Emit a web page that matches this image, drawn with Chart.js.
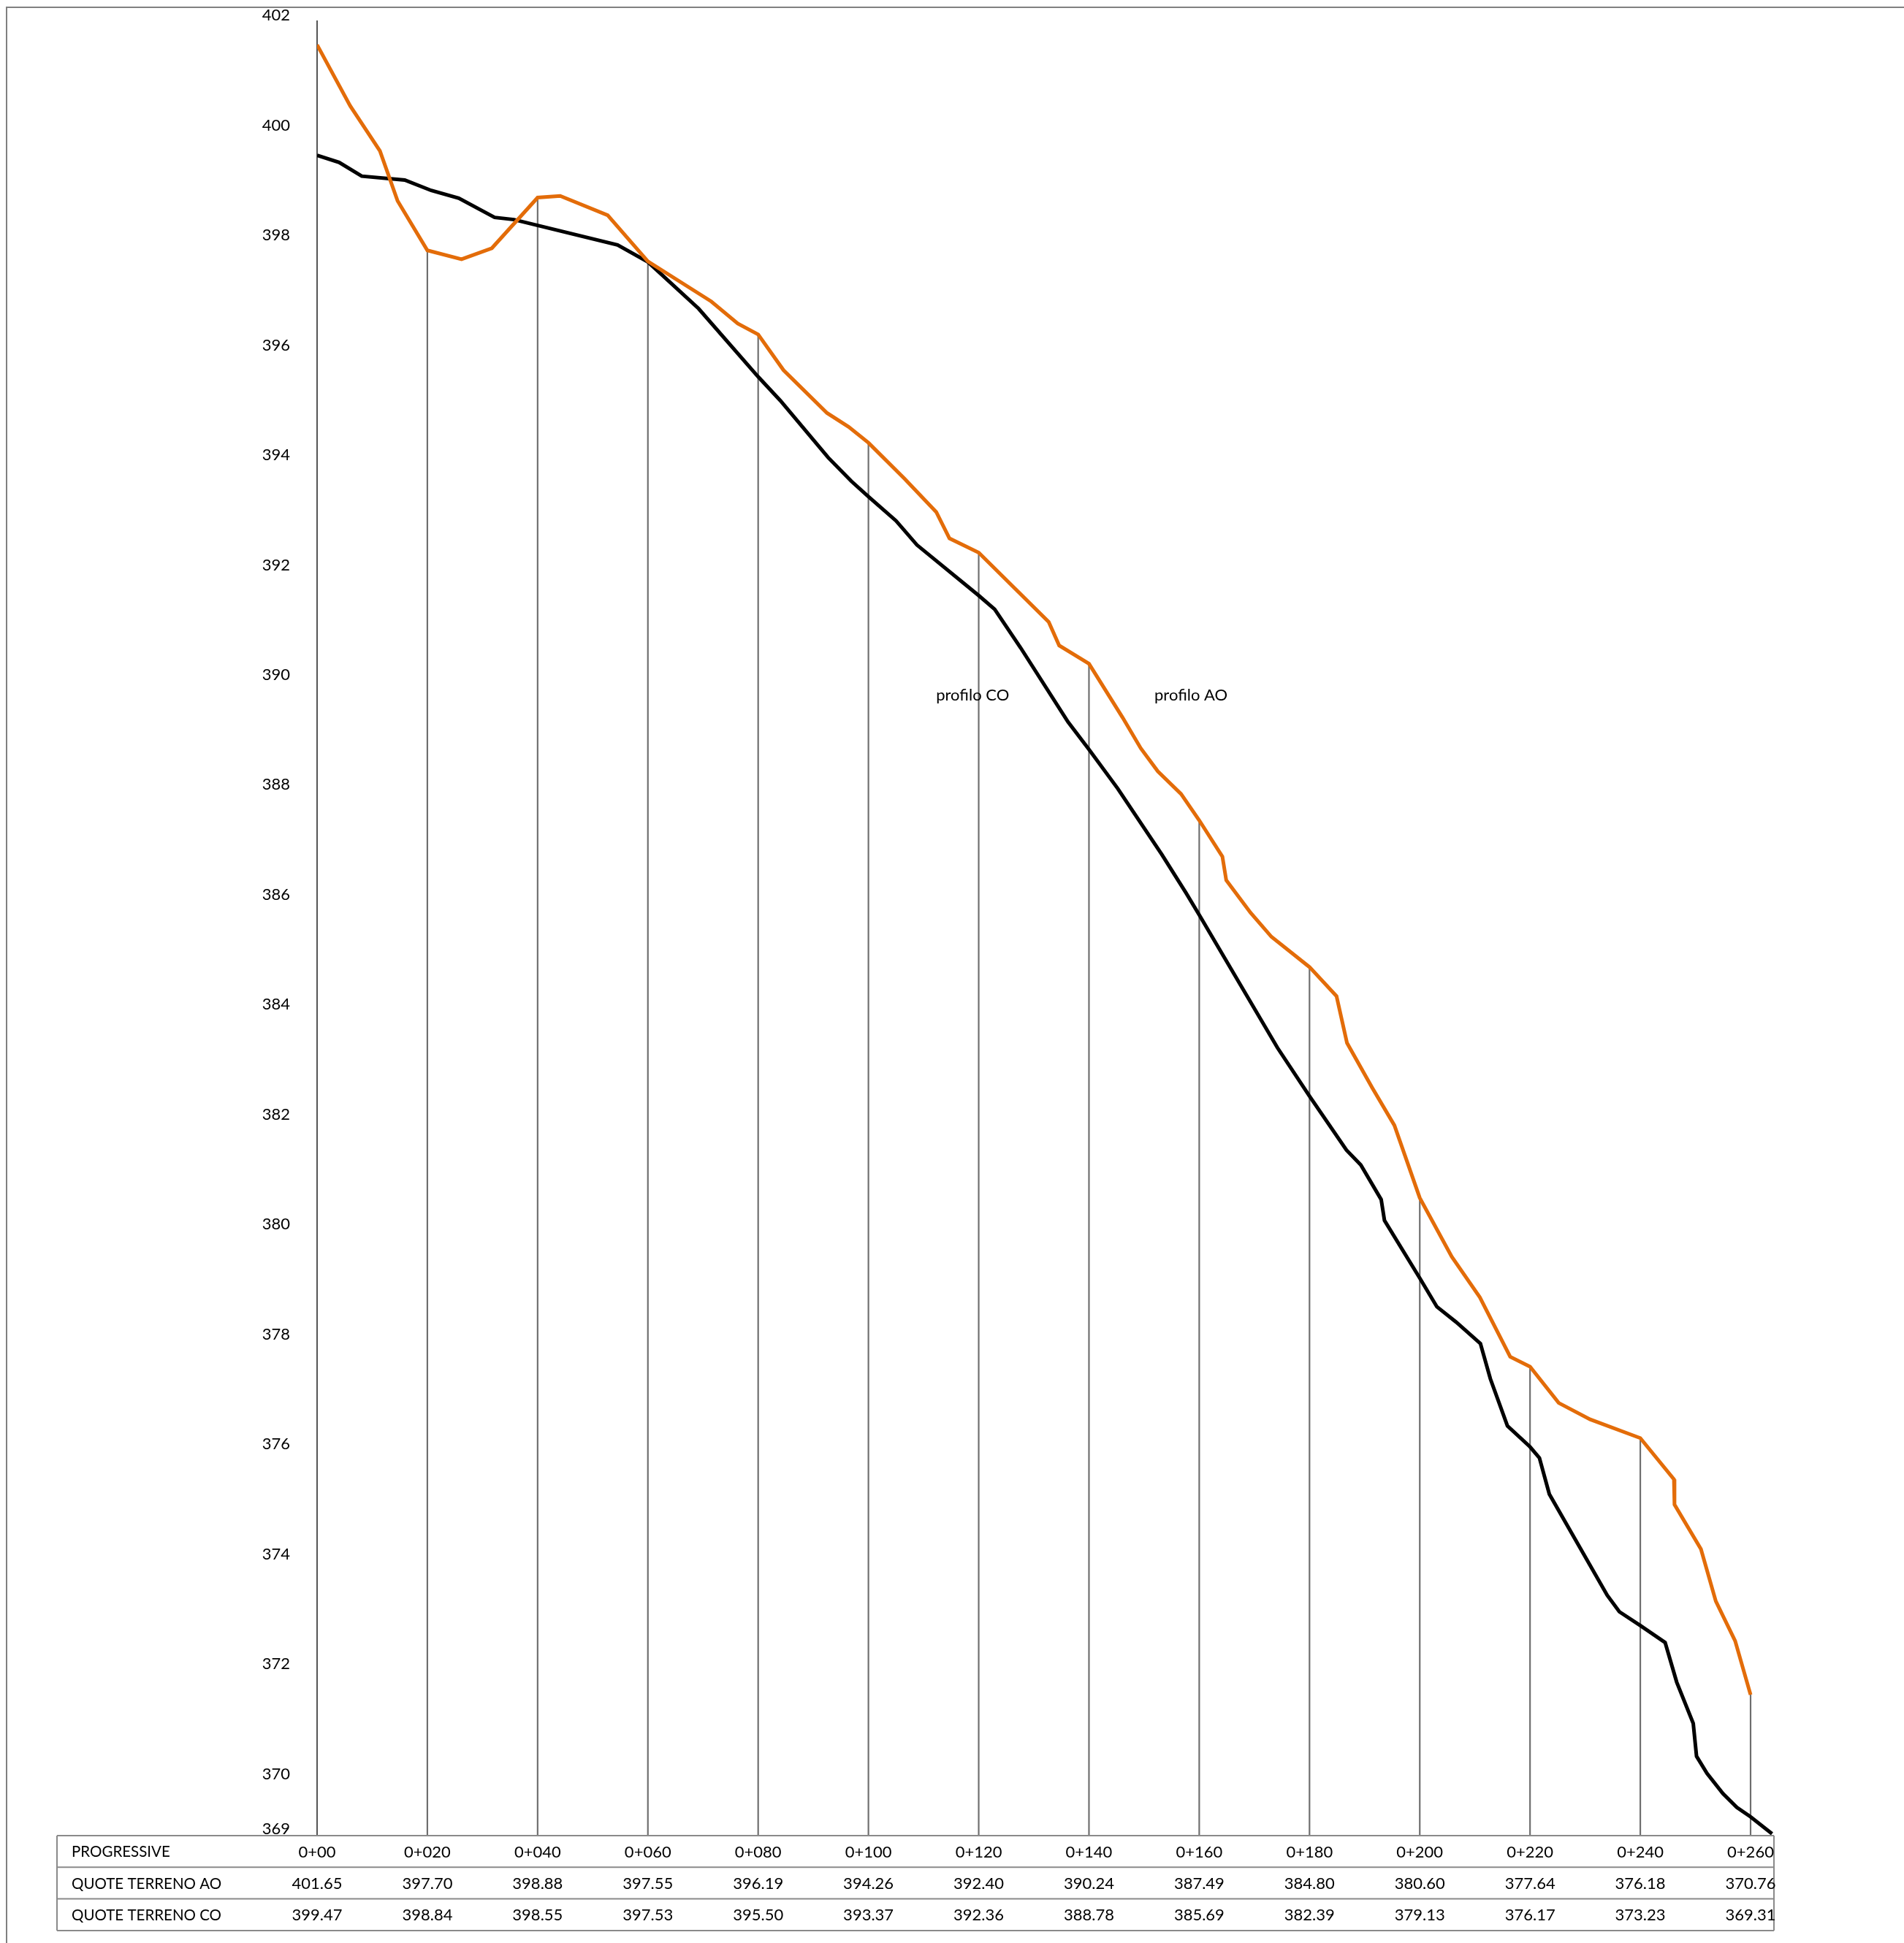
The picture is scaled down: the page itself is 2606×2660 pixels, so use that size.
<!DOCTYPE html>
<html>
<head>
<meta charset="utf-8">
<script src="https://cdn.jsdelivr.net/npm/chart.js@4.4.1/dist/chart.umd.min.js"></script>
<style>
  html, body { margin: 0; padding: 0; background: #ffffff; }
  #wrap { position: relative; width: 2606px; height: 2660px; }
</style>
</head>
<body>
<div id="wrap"><canvas id="c"></canvas></div>
<script>
// ---- DATA ----
const stations = [0, 20, 40, 60, 80, 100, 120, 140, 160, 180, 200, 220, 240, 260];
const stationLabels = ['0+00', '0+020', '0+040', '0+060', '0+080', '0+100', '0+120', '0+140', '0+160', '0+180', '0+200', '0+220', '0+240', '0+260'];
const quoteAO = ['401.65', '397.70', '398.88', '397.55', '396.19', '394.26', '392.40', '390.24', '387.49', '384.80', '380.60', '377.64', '376.18', '370.76'];
const quoteCO = ['399.47', '398.84', '398.55', '397.53', '395.50', '393.37', '392.36', '388.78', '385.69', '382.39', '379.13', '376.17', '373.23', '369.31'];
const rowTitles = ['PROGRESSIVE', 'QUOTE TERRENO AO', 'QUOTE TERRENO CO'];
const seriesNames = ['profilo AO', 'profilo CO'];

// profilo AO (orange) : progressive [m] and elevation [m]
const aoX = [0, 6.0, 11.4, 14.6, 20, 26.2, 31.7, 40, 44.1, 52.7, 60, 71.5, 76.3, 80, 84.6, 92.5, 96.4, 100, 106.6, 112.3, 114.7, 120, 132.7, 134.6, 140, 146.1, 149.4, 152.5, 156.7, 160, 164.2, 164.9, 169.3, 173.1, 180, 184.9, 186.8, 191.4, 195.4, 200, 205.8, 210.9, 216.4, 220, 225.2, 230.9, 240, 246.1, 246.2, 251.0, 253.7, 257.2, 260];
const aoY = [401.57, 400.46, 399.64, 398.73, 397.83, 397.67, 397.87, 398.79, 398.82, 398.47, 397.63, 396.90, 396.50, 396.30, 395.65, 394.87, 394.62, 394.33, 393.67, 393.07, 392.59, 392.33, 391.07, 390.64, 390.31, 389.33, 388.77, 388.35, 387.94, 387.46, 386.80, 386.37, 385.78, 385.34, 384.79, 384.26, 383.41, 382.59, 381.91, 380.59, 379.52, 378.78, 377.70, 377.52, 376.86, 376.56, 376.22, 375.47, 375.01, 374.20, 373.25, 372.53, 371.55];

// profilo CO (black)
const coX = [0, 4.0, 8.1, 15.9, 20.7, 25.7, 32.2, 35.7, 54.5, 60, 69.2, 80, 84.0, 92.7, 96.9, 100, 105.0, 108.8, 120, 122.9, 127.6, 136.2, 140, 145.2, 153.2, 157.6, 160, 174.2, 180, 186.7, 189.3, 193.0, 193.6, 200, 203.1, 206.6, 211.0, 212.8, 215.9, 220, 221.7, 223.5, 234.0, 236.2, 240, 244.5, 246.6, 249.6, 250.2, 252.1, 255.0, 257.5, 260, 263.9];
const coY = [399.56, 399.43, 399.18, 399.11, 398.92, 398.78, 398.43, 398.39, 397.93, 397.62, 396.77, 395.53, 395.10, 394.06, 393.63, 393.35, 392.91, 392.47, 391.55, 391.30, 390.60, 389.25, 388.75, 388.04, 386.84, 386.14, 385.74, 383.32, 382.44, 381.46, 381.19, 380.56, 380.18, 379.13, 378.61, 378.33, 377.94, 377.30, 376.44, 376.06, 375.86, 375.20, 373.36, 373.06, 372.81, 372.50, 371.78, 371.03, 370.43, 370.12, 369.75, 369.50, 369.33, 369.02];

const yTicks = [369, 370, 372, 374, 376, 378, 380, 382, 384, 386, 388, 390, 392, 394, 396, 398, 400, 402];
const yMin = 369, yMax = 402;
const xMin = 0, xMax = 264.24;

// label anchor points (data units) for the two series names
const nameAnchors = [{ x: 158.5, y: 389.73 }, { x: 118.9, y: 389.73 }];

// ---- BUILD ----
const FONT = 'Lato, "Open Sans", sans-serif';
const AREA = { left: 434, top: 29, right: 2428, bottom: 2512 };
const aoData = aoX.map((x, i) => ({ x: x, y: aoY[i] }));
const coData = coX.map((x, i) => ({ x: x, y: coY[i] }));
const dropData = stations.slice(1).map(s => ({ x: s, y: [yMin, aoY[aoX.indexOf(s)]] }));

const framePlugin = {
  id: 'frame',
  beforeDraw(chart) {
    const ctx = chart.ctx;
    ctx.save();
    ctx.fillStyle = '#ffffff';
    ctx.fillRect(0, 0, chart.width, chart.height);
    ctx.strokeStyle = '#808080';
    ctx.lineWidth = 2;
    ctx.beginPath();
    ctx.moveTo(9, chart.height + 5);
    ctx.lineTo(9, 10);
    ctx.lineTo(chart.width + 5, 10);
    ctx.stroke();
    ctx.restore();
  }
};

const tablePlugin = {
  id: 'table',
  afterDraw(chart) {
    const ctx = chart.ctx;
    const xs = chart.scales.x, ys = chart.scales.y;
    const area = chart.chartArea;
    const left = 78, right = area.right;
    const rowH = 43.3;
    const top = area.bottom + 1;
    const lines = [top, top + rowH, top + 2 * rowH, top + 3 * rowH];
    ctx.save();
    ctx.strokeStyle = '#8a8a8a';
    ctx.lineWidth = 2;
    ctx.beginPath();
    lines.forEach(y => { ctx.moveTo(left, y); ctx.lineTo(right, y); });
    ctx.moveTo(left, top); ctx.lineTo(left, lines[3]);
    ctx.moveTo(right, top); ctx.lineTo(right, lines[3]);
    ctx.stroke();

    ctx.fillStyle = '#000000';
    ctx.textBaseline = 'middle';
    const rows = [stationLabels, quoteAO, quoteCO];
    rows.forEach((vals, r) => {
      const cy = (lines[r] + lines[r + 1]) / 2 + 1;
      ctx.font = '20.5px ' + FONT;
      ctx.textAlign = 'left';
      ctx.fillText(rowTitles[r], 98, cy);
      ctx.font = '22px ' + FONT;
      ctx.textAlign = 'center';
      vals.forEach((v, i) => ctx.fillText(v, xs.getPixelForValue(stations[i]), cy));
    });

    // series name labels
    ctx.font = '22px ' + FONT;
    ctx.textAlign = 'center';
    nameAnchors.forEach((p, i) => {
      ctx.fillText(seriesNames[i], xs.getPixelForValue(p.x), ys.getPixelForValue(p.y));
    });
    ctx.restore();
  }
};

new Chart(document.getElementById('c'), {
  type: 'line',
  data: {
    datasets: [
      { label: seriesNames[0], data: aoData, borderColor: '#E36C09', borderWidth: 5, pointRadius: 0, tension: 0, fill: false, order: 1 },
      { label: seriesNames[1], data: coData, borderColor: '#000000', borderWidth: 5, pointRadius: 0, tension: 0, fill: false, order: 2 },
      { type: 'bar', label: 'stations', data: dropData, backgroundColor: '#6e6e6e', borderWidth: 0, barThickness: 1.5, grouped: false, order: 3 }
    ]
  },
  options: {
    responsive: true,
    maintainAspectRatio: false,
    animation: false,
    events: [],
    layout: { padding: { left: 0, top: AREA.top, right: 2606 - AREA.right, bottom: 2660 - AREA.bottom } },
    plugins: { legend: { display: false }, tooltip: { enabled: false } },
    scales: {
      x: { type: 'linear', min: xMin, max: xMax, display: false, offset: false, grid: { display: false } },
      y: {
        type: 'linear', min: yMin, max: yMax,
        afterBuildTicks: s => { s.ticks = yTicks.map(v => ({ value: v })); },
        afterFit: s => { s.width = AREA.left; s.paddingTop = 0; s.paddingBottom = 0; },
        grid: { display: false, drawTicks: false },
        border: { display: true, color: '#555555', width: 2 },
        ticks: { padding: 37, labelOffset: -8, color: '#000000', font: { family: FONT, size: 22 }, callback: v => String(v) }
      }
    }
  },
  plugins: [framePlugin, tablePlugin]
});
</script>
</body>
</html>
